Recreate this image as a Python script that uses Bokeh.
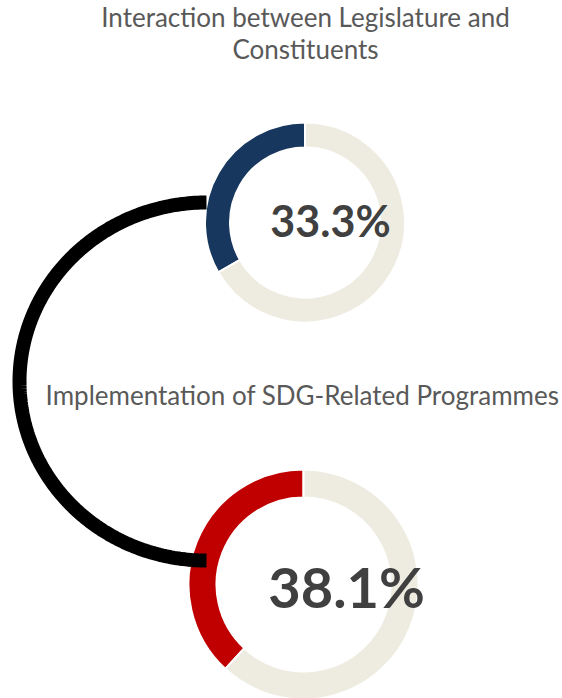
import numpy as np
from bokeh.plotting import figure
from bokeh.models import Range1d, ColumnDataSource
from bokeh.core.properties import value
from bokeh.embed import file_html
from bokeh.resources import INLINE

# ---- data ----
titles = ["Interaction between Legislature and\nConstituents",
          "Implementation of SDG-Related Programmes"]
shares = [33.3, 38.1]            # percent
share_labels = ["33.3%", "38.1%"]
colors = ["#17375E", "#C00000"]
rest_color = "#EEECE1"

# ---- layout (page pixel coordinates, y measured from top of window) ----
W, H = 562, 698


def Y(page_y):
    return H - page_y


p = figure(width=W, height=H, output_backend="svg", toolbar_location=None,
           x_range=Range1d(0, W), y_range=Range1d(0, H),
           min_border=0)
p.axis.visible = False
p.grid.visible = False
p.outline_line_color = None
p.background_fill_color = "white"
p.border_fill_color = "white"

donuts = [
    dict(cx=304.5, cy=222, r_in=76, r_out=99, font=43, tx=330, ty=219.5, t_y=[16, 48], t_x=305),
    dict(cx=303, cy=584, r_in=88, r_out=114, font=56, tx=346, ty=586, t_y=[394.5], t_x=302),
]

for i, d in enumerate(donuts):
    frac = shares[i] / 100.0
    start = np.pi / 2
    mid = start + frac * 2 * np.pi
    src = ColumnDataSource(dict(
        start=[start, mid],
        end=[mid, start + 2 * np.pi],
        color=[colors[i], rest_color],
    ))
    p.annular_wedge(x=d["cx"], y=Y(d["cy"]), inner_radius=d["r_in"] - 1, outer_radius=d["r_out"] + 1,
                    start_angle="start", end_angle="end", direction="anticlock",
                    fill_color="color", line_color="white", line_width=2, source=src)
    p.text(x=[d["tx"]], y=[Y(d["ty"])], text=[share_labels[i]],
           text_font=value("Lato"), text_font_style="bold", text_font_size=f"{d['font']}px",
           text_color="#404040", text_align="center", text_baseline="alphabetic")
    lines = titles[i].split("\n")
    p.text(x=[d["t_x"]] * len(lines), y=[Y(v) for v in d["t_y"]], text=lines,
           text_font=value("Lato"), text_font_size="26px",
           text_color="#595959", text_align="center", text_baseline="alphabetic")

# connector (half ellipse on the left)
t = np.linspace(np.pi / 2, 3 * np.pi / 2, 200)
ex, ey = 206, 381
rx, ry = 187, 179
p.line(ex + rx * np.cos(t), Y(ey) + ry * np.sin(t), line_color="black", line_width=14, line_cap="butt")

open("out.html", "w").write(file_html(p, INLINE))
